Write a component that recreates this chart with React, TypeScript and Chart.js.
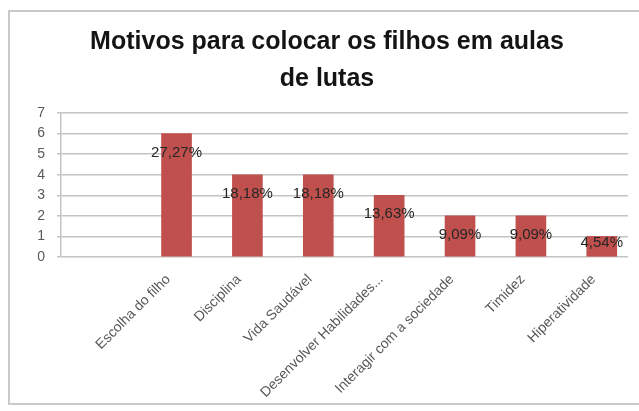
import React, { useEffect, useRef } from "react";
import { Chart, registerables } from "chart.js";

Chart.register(...registerables);

const TITLE_LINES = ["Motivos para colocar os filhos em aulas", "de lutas"];
const CATEGORIES = [
  "Escolha do filho",
  "Disciplina",
  "Vida Saudável",
  "Desenvolver Habilidades...",
  "Interagir com a sociedade",
  "Timidez",
  "Hiperatividade",
];
const POSITIONS = [1, 2, 3, 4, 5, 6, 7];
const VALUES = [6, 4, 4, 3, 2, 2, 1];
const PERCENT_LABELS = ["27,27%", "18,18%", "18,18%", "13,63%", "9,09%", "9,09%", "4,54%"];
const Y_MIN = 0;
const Y_MAX = 7;

const FONT = '"Liberation Sans", Arial, sans-serif';

const percentLabelPlugin = {
  id: "percentLabels",
  afterDatasetsDraw(chart: any) {
    const meta = chart.getDatasetMeta(0);
    const ctx = chart.ctx;
    ctx.save();
    ctx.font = `15px ${FONT}`;
    ctx.fillStyle = "#262626";
    ctx.textAlign = "center";
    ctx.textBaseline = "middle";
    meta.data.forEach((bar: any, i: number) => {
      const { x, y, base } = bar.getProps(["x", "y", "base"], true);
      const h = base - y;
      const ly = h > 30 ? y + 19 : y + 6;
      ctx.fillText(PERCENT_LABELS[i], x, ly);
    });
    ctx.restore();
  },
};

export default function App() {
  const canvasRef = useRef<HTMLCanvasElement | null>(null);

  useEffect(() => {
    if (!canvasRef.current) return;
    const chart = new Chart(canvasRef.current, {
      type: "bar",
      data: {
        datasets: [
          {
            data: VALUES.map((v, i) => ({ x: POSITIONS[i], y: v })),
            backgroundColor: "#C0504D",
            borderWidth: 0,
            barThickness: 30,
          },
        ],
      },
      options: {
        animation: false,
        responsive: false,
        layout: { padding: { left: 16, right: 11, top: 0, bottom: 0 } },
        plugins: {
          legend: { display: false },
          tooltip: { enabled: false },
          title: {
            display: true,
            text: TITLE_LINES,
            color: "#141414",
            font: { family: FONT, size: 25, weight: "bold", lineHeight: 1.5 },
            padding: { top: 11, bottom: 15 },
          },
        },
        scales: {
          x: {
            type: "linear",
            offset: false,
            min: -0.63,
            max: 7.37,
            grid: { display: false },
            border: { display: false },
            afterBuildTicks: (s: any) => {
              s.ticks = POSITIONS.map((v) => ({ value: v }));
            },
            afterFit: (s: any) => {
              s.height = 146;
            },
            ticks: {
              autoSkip: false,
              minRotation: 45,
              maxRotation: 45,
              padding: -2,
              color: "#595959",
              font: { family: FONT, size: 14 },
              callback: (v: any) => {
                const idx = POSITIONS.indexOf(Number(v));
                return idx >= 0 ? CATEGORIES[idx] + "   " : "";
              },
            },
          },
          y: {
            min: Y_MIN,
            max: Y_MAX,
            afterFit: (s: any) => {
              s.width = 35;
            },
            ticks: {
              stepSize: 1,
              padding: 12,
              color: "#595959",
              font: { family: FONT, size: 14 },
            },
            grid: { color: "#c4c4c4", lineWidth: 1.5, tickLength: 4 },
            border: { display: true, color: "#c4c4c4", width: 1.5 },
          },
        },
      } as any,
      plugins: [percentLabelPlugin],
    });
    return () => chart.destroy();
  }, []);

  return (
    <div
      style={{
        position: "absolute",
        left: 8,
        top: 10,
        width: 629,
        height: 391,
        borderLeft: "2px solid #c9c9c9",
        borderTop: "2px solid #c9c9c9",
        borderBottom: "2px solid #c9c9c9",
        background: "#ffffff",
      }}
    >
      <canvas ref={canvasRef} width={629} height={391} style={{ display: "block" }} />
    </div>
  );
}
